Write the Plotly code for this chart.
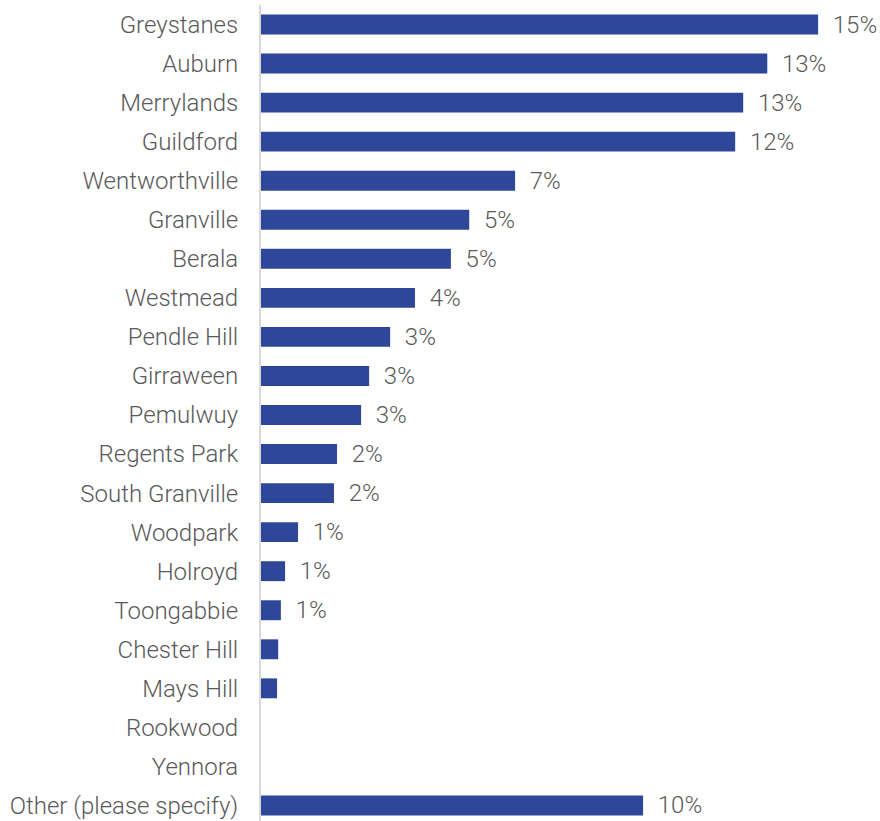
import plotly.graph_objects as go

categories = ["Greystanes", "Auburn", "Merrylands", "Guildford", "Wentworthville",
              "Granville", "Berala", "Westmead", "Pendle Hill", "Girraween", "Pemulwuy",
              "Regents Park", "South Granville", "Woodpark", "Holroyd", "Toongabbie",
              "Chester Hill", "Mays Hill", "Rookwood", "Yennora", "Other (please specify)"]
values = [14.58, 13.25, 12.62, 12.41, 6.65, 5.45, 4.97, 4.03, 3.38, 2.83, 2.62,
          1.99, 1.91, 0.97, 0.63, 0.52, 0.45, 0.42, 0, 0, 10.0]
labels = ["15%", "13%", "13%", "12%", "7%", "5%", "5%", "4%", "3%", "3%", "3%",
          "2%", "2%", "1%", "1%", "1%", "", "", "", "", "10%"]

BAR = "#2E4799"
GRAY = "#595959"
FONT = "Roboto"

fig = go.Figure(go.Bar(
    x=values, y=categories, orientation="h",
    marker=dict(color=BAR, line=dict(width=0)),
    text=labels, textposition="outside", cliponaxis=False,
    constraintext="none",
    textfont=dict(family=FONT, size=24, color=GRAY, weight=300),
    width=0.51,
))
fig.update_traces(texttemplate="  %{text}")

fig.update_layout(
    width=880, height=825,
    margin=dict(l=261, r=0, t=5, b=0, autoexpand=False),
    paper_bgcolor="white", plot_bgcolor="white",
    showlegend=False,
    font=dict(family=FONT, color=GRAY, size=24, weight=300),
    xaxis=dict(range=[0, 16.2], visible=False, fixedrange=True, automargin=False),
    yaxis=dict(autorange="reversed", showline=True, linecolor="#D9D9D9", linewidth=2,
               showgrid=False, ticks="", ticklabelstandoff=16, automargin=False,
               tickfont=dict(family=FONT, size=24, color=GRAY, weight=300)),
)

fig.write_html("out.html", config={"displayModeBar": False},
               post_script="document.body.style.margin='0';document.body.style.overflow='hidden';")
